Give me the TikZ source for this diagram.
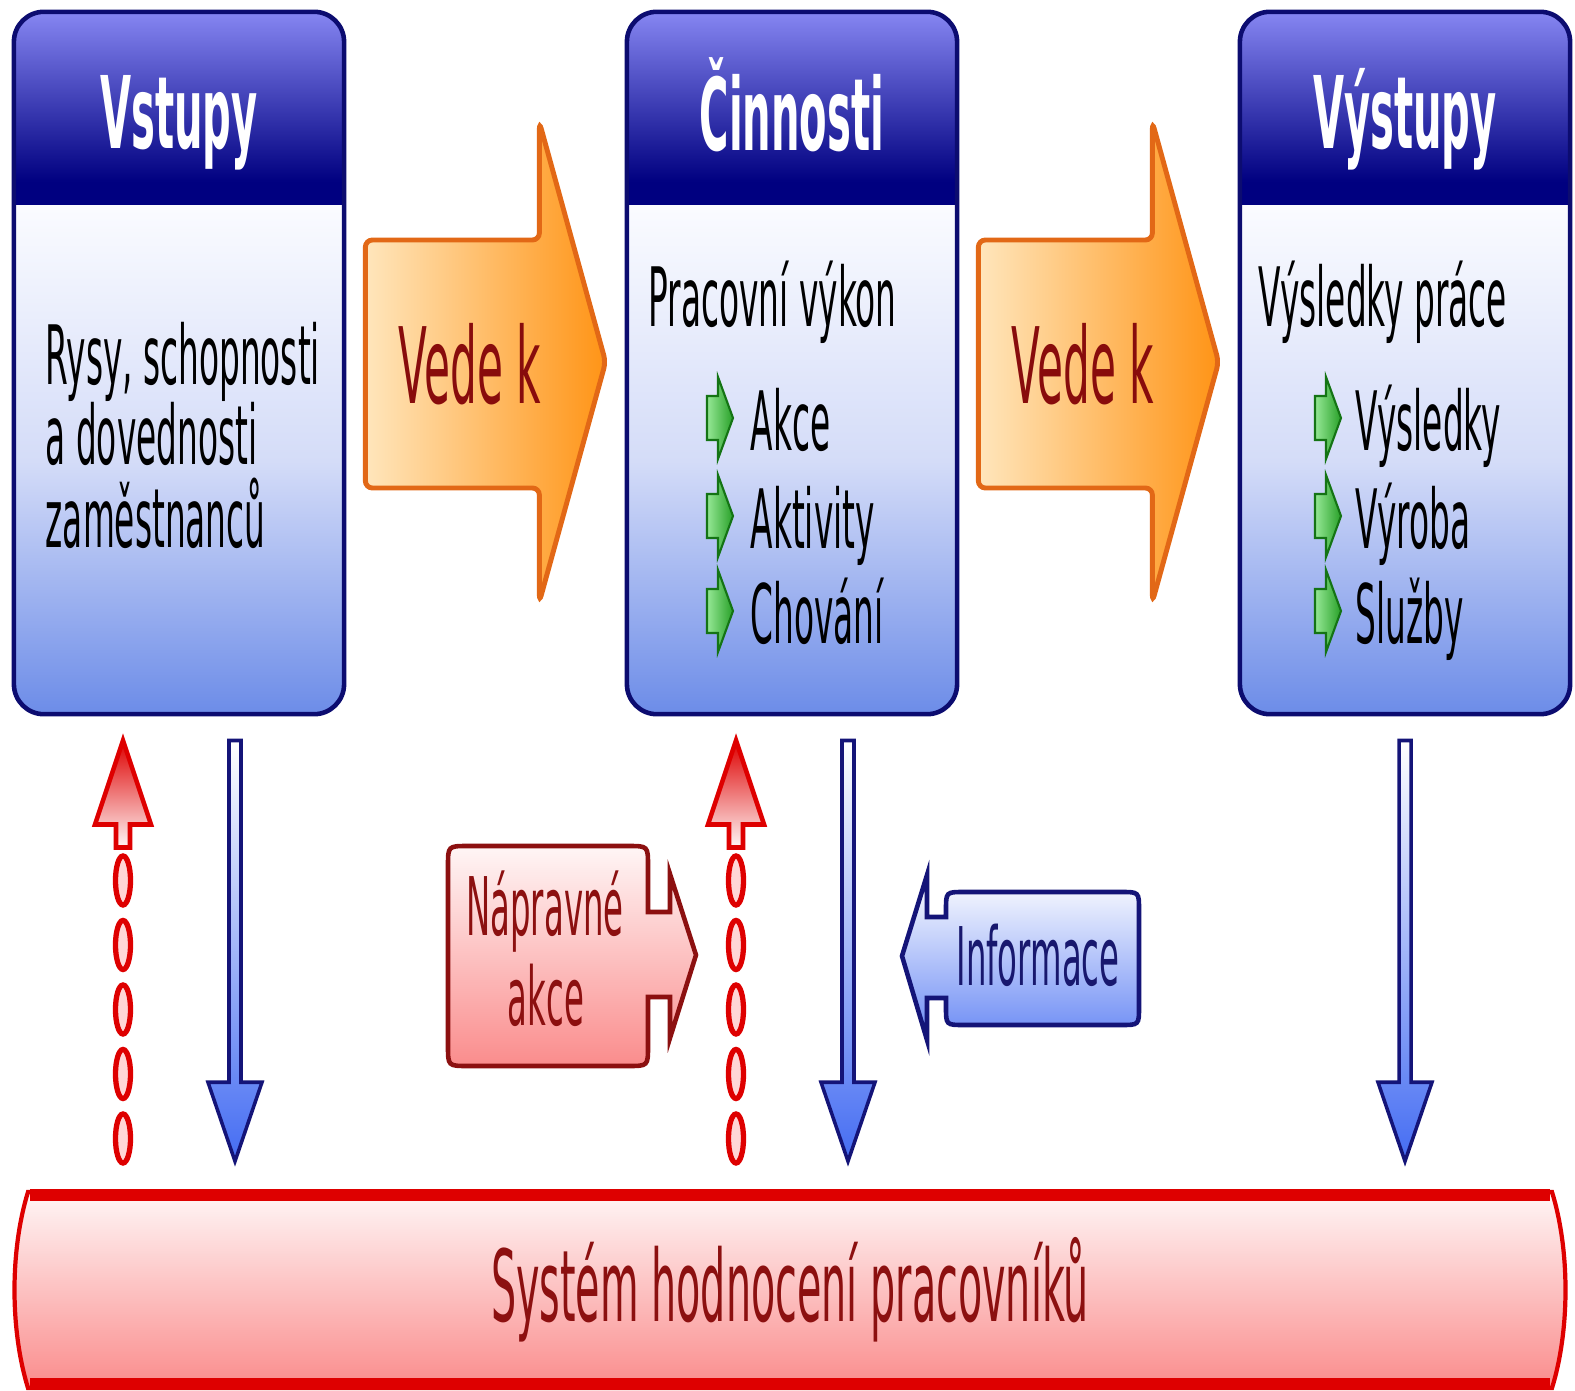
\documentclass[tikz,border=0pt]{standalone}
\usepackage{fontspec}
\setmainfont{DejaVu Sans}
\usepackage{graphicx}
\usetikzlibrary{calc}

\definecolor{headtop}{RGB}{134,134,242}
\definecolor{headbot}{RGB}{0,0,128}
\definecolor{boxline}{RGB}{12,12,112}
\definecolor{bodytop}{RGB}{250,251,255}
\definecolor{bodymid}{RGB}{212,220,248}
\definecolor{bodybot}{RGB}{108,140,232}
\definecolor{orangeleft}{RGB}{255,230,188}
\definecolor{orangeright}{RGB}{255,148,22}
\definecolor{orangeline}{RGB}{226,104,22}
\definecolor{vedetext}{RGB}{136,12,12}
\definecolor{redline}{RGB}{222,0,0}
\definecolor{pinktop}{RGB}{255,246,246}
\definecolor{pinkmid}{RGB}{255,214,214}
\definecolor{pinkbot}{RGB}{250,140,140}
\definecolor{darkred}{RGB}{140,16,16}
\definecolor{arrowblue}{RGB}{68,108,242}
\definecolor{arrowline}{RGB}{20,20,120}
\definecolor{navytext}{RGB}{24,24,110}
\definecolor{greenl}{RGB}{150,232,150}
\definecolor{greend}{RGB}{40,160,40}
\definecolor{greenline}{RGB}{20,116,20}

% body of a stage box: white under the header, blue at the bottom
\pgfdeclareverticalshading{bodyshade}{100bp}{color(0bp)=(bodybot); color(25bp)=(bodybot);
	color(43bp)=(bodymid); color(61bp)=(bodytop); color(100bp)=(bodytop)}

\newcommand\narrow[1]{\scalebox{.4}[1]{#1}}

\begin{document}
\begin{tikzpicture}[x=0.01cm, y=-0.01cm]

\useasboundingbox (0,0) rectangle (1575,1391);

\def\headheight{1.93cm}

% stage boxes

\tikzstyle{stage box} =
	[draw=boxline, line width=1.3pt, rounded corners=.3cm, minimum width=3.3cm, minimum height=7.02cm, inner sep=0pt,
	path picture={
		\shade [sharp corners, shading=bodyshade]
			(path picture bounding box.north west) rectangle (path picture bounding box.south east) ;
		\shade [sharp corners, top color=headtop, bottom color=headbot]
			(path picture bounding box.north west) rectangle ([yshift=-1.7cm]path picture bounding box.north east) ;
		\fill [sharp corners, headbot]
			([yshift=-1.7cm]path picture bounding box.north west) rectangle ([yshift=-\headheight]path picture bounding box.north east) ;
	}]
\tikzstyle{stage title} = [text=white, font=\fontsize{28.5}{30}\selectfont\bfseries, anchor=base, inner sep=0pt]
\tikzstyle{stage text} = [font=\fontsize{23.3}{24}\selectfont, anchor=base west, inner sep=0pt]

\node (vstupy) [stage box] at (179, 363) {} ;
\node (cinnosti) [stage box] at (792, 363) {} ;
\node (vystupy) [stage box] at (1405, 363) {} ;

\node (vstupy-title) [stage title] at (179, 149) {\narrow{Vstupy}} ;
\node (cinnosti-title) [stage title] at (792, 151) {\narrow{Činnosti}} ;
\node (vystupy-title) [stage title] at (1405, 149) {\narrow{Výstupy}} ;

\node (rysy) [stage text] at (45, 385) {\narrow{Rysy, schopnosti}} ;
\node (dovednosti) [stage text] at (45, 465) {\narrow{a dovednosti}} ;
\node (zamestnancu) [stage text] at (45, 547) {\narrow{zaměstnanců}} ;

\node (vykon) [stage text] at (648, 327) {\narrow{Pracovní výkon}} ;
\node (akce) [stage text] at (750, 450) {\narrow{Akce}} ;
\node (aktivity) [stage text] at (750, 548) {\narrow{Aktivity}} ;
\node (chovani) [stage text] at (750, 643) {\narrow{Chování}} ;

\node (vysledky-prace) [stage text] at (1258, 327) {\narrow{Výsledky práce}} ;
\node (vysledky) [stage text] at (1355, 450) {\narrow{Výsledky}} ;
\node (vyroba) [stage text] at (1355, 548) {\narrow{Výroba}} ;
\node (sluzby) [stage text] at (1355, 643) {\narrow{Služby}} ;

% bullets

\tikzstyle{bullet arrow} = [draw=greenline, line width=.6pt, left color=greenl, right color=greend]

\foreach \bx in {707, 1315}
	\foreach \by in {418, 516, 611}
		\draw [bullet arrow] ({\bx}, {\by-22}) -- ++(11, 0) -- ++(0, -19) -- ++(15, 41)
			-- ++(-15, 41) -- ++(0, -19) -- ++(-11, 0) -- cycle ;

% lead arrows

\tikzstyle{vede arrow} = [draw=orangeline, line width=1.4pt, left color=orangeleft, right color=orangeright, rounded corners=2pt]
\tikzstyle{vede text} = [text=vedetext, font=\fontsize{30}{32}\selectfont, inner sep=0pt]

\foreach \from/\to in {vstupy/cinnosti, cinnosti/vystupy}
	\draw [vede arrow] ($(\from.east)+(19,-123)$) -- ($(\from.east)+(193,-123)$) -- ($(\from.east)+(193,-241)$)
		-- ($(\to.west)+(-19,-1)$) -- ($(\from.east)+(193,239)$) -- ($(\from.east)+(193,125)$)
		-- ($(\from.east)+(19,125)$) -- cycle ;

\node (vede-1) [vede text] at (470, 364) {\narrow{Vede k}} ;
\node (vede-2) [vede text] at (1083, 364) {\narrow{Vede k}} ;

% evaluation bar

\tikzstyle{system bar} = [draw=redline, line width=1.2pt, top color=pinktop, middle color=pinkmid, bottom color=pinkbot]
\tikzstyle{system edge} = [draw=redline, line width=3.2pt]

\draw [system bar] (28, 1192) -- (1552, 1192) .. controls (1570, 1250) and (1570, 1330) .. (1552, 1388)
	-- (28, 1388) .. controls (10, 1330) and (10, 1250) .. (28, 1192) -- cycle ;
\draw [system edge] (30, 1195) -- (1550, 1195) ;
\draw [system edge] (30, 1384) -- (1550, 1384) ;

\node (system) [text=darkred, font=\fontsize{28.2}{30}\selectfont, inner sep=0pt, minimum width=15.5cm, minimum height=1.96cm]
	at (790, 1290) {\narrow{Systém hodnocení pracovníků}} ;

% information arrows

\tikzstyle{info arrow} = [draw=arrowline, line width=1pt, top color=white, bottom color=arrowblue]

\foreach \stage/\dx in {vstupy/56, cinnosti/56, vystupy/0} {
	\coordinate (out) at ($(\stage.south)+(\dx, 24)$) ;
	\coordinate (in) at (out |- system.north) ;
	\draw [info arrow] ($(out)+(-6, 0)$) -- ($(out)+(6, 0)$) -- ($(in)+(6, -109)$) -- ($(in)+(27, -109)$)
		-- ($(in)+(0, -30)$) -- ($(in)+(-27, -109)$) -- ($(in)+(-6, -109)$) -- cycle ;
}

% feedback arrows

\tikzstyle{feedback head} = [draw=redline, line width=1.3pt, top color=redline, bottom color=pinktop]
\tikzstyle{feedback dot} = [draw=redline, line width=1.5pt, fill=pinkmid]

\foreach \stage in {vstupy, cinnosti} {
	\coordinate (tip) at ($(\stage.south)+(-56, 24)$) ;
	\draw [feedback head] (tip) -- ++(28, 84) -- ++(-21, 0) -- ++(0, 23) -- ++(-14, 0) -- ++(0, -23) -- ++(-21, 0) -- cycle ;
	\foreach \k in {0, ..., 4}
		\draw [feedback dot] ($(tip)+(0, 140+64.5*\k)$) ellipse [x radius=.075cm, y radius=.245cm] ;
}

% callouts

\tikzstyle{napravne shape} = [draw=darkred, line width=1.3pt, top color=pinktop, middle color=pinktop!60!pinkmid, bottom color=pinkbot]
\tikzstyle{informace shape} = [draw=arrowline, line width=1.3pt, top color=white, middle color=bodymid, bottom color=arrowblue!80]
\tikzstyle{callout text} = [font=\fontsize{23}{24}\selectfont, anchor=base, inner sep=0pt]

\draw [napravne shape] (648, 912) -- (670, 912) -- (670, 874) -- (696, 955) -- (670, 1038) -- (670, 997) -- (648, 997)
	-- (648, 1046) .. controls (648, 1066) .. (628, 1066) -- (468, 1066) .. controls (448, 1066) .. (448, 1046)
	-- (448, 866) .. controls (448, 846) .. (468, 846) -- (628, 846) .. controls (648, 846) .. (648, 866) -- cycle ;

\node (napravne) [callout text, text=darkred] at (545, 935) {\narrow{Nápravné}} ;
\node (napravne-akce) [callout text, text=darkred] at (546, 1025) {\narrow{akce}} ;

\draw [informace shape] (946, 917) -- (927, 917) -- (927, 875) -- (902, 956) -- (927, 1040) -- (927, 998) -- (946, 998)
	-- (946, 1007) .. controls (946, 1025) .. (964, 1025) -- (1121, 1025) .. controls (1139, 1025) .. (1139, 1007)
	-- (1139, 910) .. controls (1139, 892) .. (1121, 892) -- (964, 892) .. controls (946, 892) .. (946, 910) -- cycle ;

\node (informace) [callout text, text=navytext] at (1038, 985) {\narrow{Informace}} ;

\end{tikzpicture}
\end{document}
